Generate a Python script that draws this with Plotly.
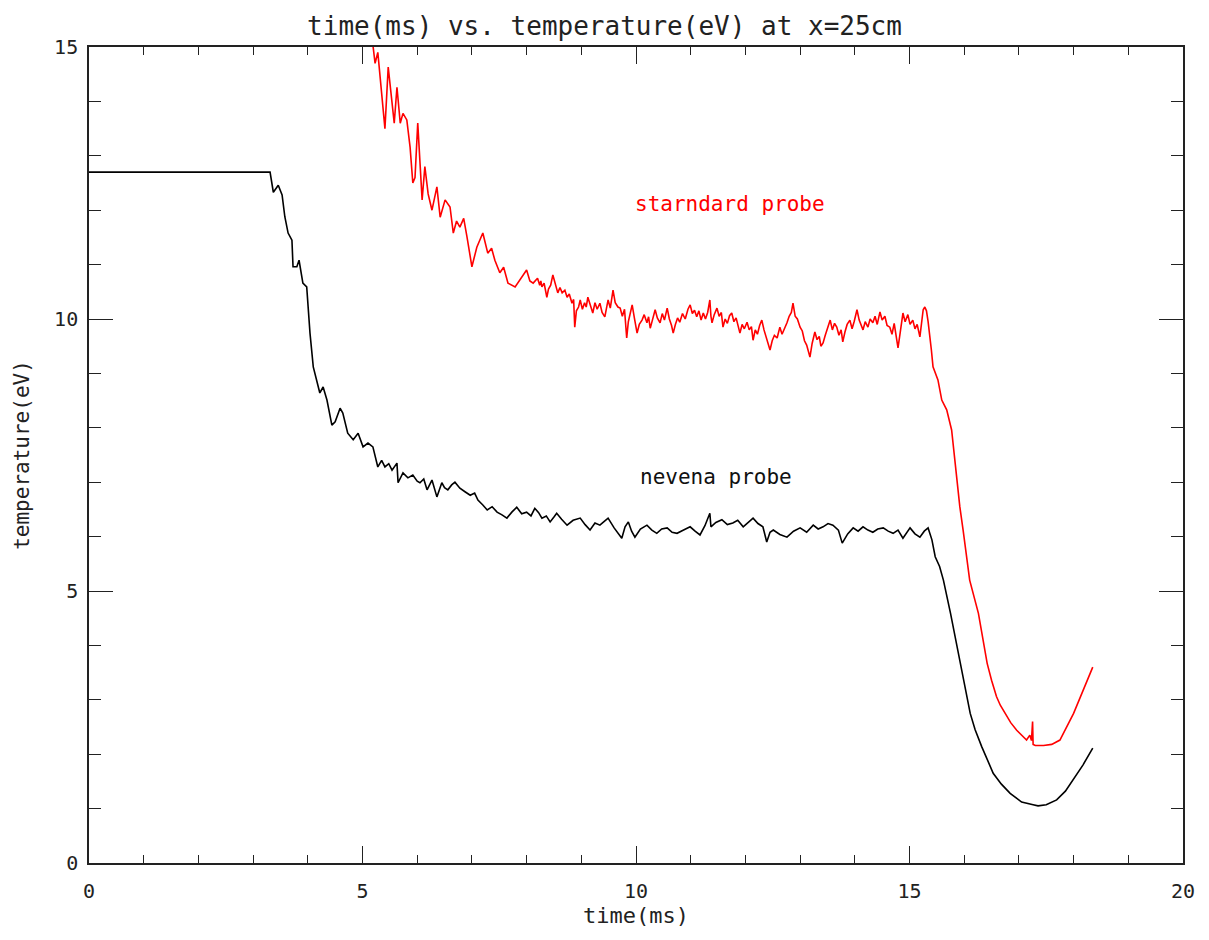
import plotly.graph_objects as go

# nevena probe (black)
nev_t = [0.00, 3.31, 3.37, 3.46, 3.53, 3.58, 3.64, 3.71, 3.73, 3.80, 3.84, 3.91, 3.98, 4.04, 4.10,
         4.17, 4.22, 4.28, 4.35, 4.44, 4.50, 4.59, 4.64, 4.73, 4.83, 4.92, 5.01, 5.10, 5.19, 5.28,
         5.35, 5.41, 5.48, 5.54, 5.63, 5.65, 5.74, 5.83, 5.92, 6.00, 6.05, 6.12, 6.18, 6.27, 6.36,
         6.45, 6.50, 6.56, 6.63, 6.69, 6.78, 6.88, 6.97, 7.05, 7.11, 7.20, 7.28, 7.37, 7.46, 7.55,
         7.64, 7.73, 7.82, 7.91, 8.00, 8.08, 8.15, 8.22, 8.28, 8.36, 8.43, 8.50, 8.55, 8.64, 8.74,
         8.85, 8.98, 9.07, 9.16, 9.25, 9.34, 9.42, 9.49, 9.60, 9.74, 9.80, 9.86, 9.92, 9.98, 10.08,
         10.20, 10.29, 10.38, 10.47, 10.57, 10.66, 10.75, 10.87, 10.99, 11.08, 11.17, 11.26, 11.35,
         11.37, 11.46, 11.57, 11.67, 11.77, 11.86, 11.96, 12.05, 12.14, 12.23, 12.32, 12.39, 12.45,
         12.51, 12.63, 12.76, 12.88, 13.00, 13.12, 13.24, 13.33, 13.42, 13.51, 13.60, 13.70, 13.77,
         13.87, 13.97, 14.06, 14.15, 14.24, 14.33, 14.42, 14.52, 14.61, 14.70, 14.79, 14.88, 14.95,
         15.01, 15.10, 15.19, 15.27, 15.34, 15.41, 15.47, 15.55, 15.62, 15.75, 15.87, 15.98, 16.11,
         16.20, 16.32, 16.53, 16.68, 16.84, 17.05, 17.26, 17.35, 17.50, 17.69, 17.85, 17.99, 18.17, 18.35]
nev_T = [12.70, 12.70, 12.33, 12.46, 12.28, 11.88, 11.58, 11.45, 10.96, 10.96, 11.08, 10.66, 10.59, 9.74, 9.12,
         8.82, 8.64, 8.75, 8.51, 8.05, 8.11, 8.36, 8.27, 7.90, 7.78, 7.90, 7.65, 7.72, 7.65, 7.28,
         7.40, 7.28, 7.34, 7.22, 7.35, 6.99, 7.17, 7.08, 7.13, 7.02, 6.99, 7.06, 6.86, 7.04, 6.73,
         6.99, 6.90, 6.86, 6.95, 7.00, 6.89, 6.82, 6.76, 6.80, 6.67, 6.58, 6.49, 6.55, 6.45, 6.40,
         6.34, 6.45, 6.54, 6.42, 6.45, 6.38, 6.52, 6.44, 6.34, 6.38, 6.27, 6.36, 6.43, 6.32, 6.21,
         6.30, 6.34, 6.22, 6.12, 6.25, 6.21, 6.28, 6.34, 6.16, 5.97, 6.18, 6.27, 6.10, 5.99, 6.14,
         6.21, 6.12, 6.06, 6.14, 6.16, 6.08, 6.06, 6.12, 6.18, 6.10, 6.03, 6.20, 6.43,
         6.18, 6.26, 6.31, 6.22, 6.25, 6.30, 6.18, 6.26, 6.34, 6.24, 6.18, 5.90, 6.08,
         6.12, 6.04, 5.99, 6.10, 6.16, 6.08, 6.21, 6.14, 6.18, 6.24, 6.21, 6.12, 5.88,
         6.05, 6.16, 6.10, 6.18, 6.12, 6.08, 6.14, 6.16, 6.10, 6.06, 6.12, 5.97, 6.08,
         6.16, 6.05, 5.99, 6.10, 6.16, 5.94, 5.63, 5.45, 5.20, 4.59, 3.98, 3.36, 2.75,
         2.45, 2.14, 1.65, 1.45, 1.28, 1.12, 1.07, 1.05, 1.07, 1.16, 1.32, 1.53, 1.80, 2.11]

# standard probe (red)
std_t = [5.10, 5.19, 5.23, 5.28, 5.32, 5.37, 5.41, 5.47, 5.54, 5.58, 5.63, 5.69, 5.74, 5.81, 5.87,
         5.92, 5.96, 6.01, 6.09, 6.14, 6.20, 6.27, 6.36, 6.42, 6.51, 6.60, 6.66, 6.72, 6.78, 6.85,
         6.91, 7.00, 7.09, 7.20, 7.29, 7.36, 7.42, 7.51, 7.58, 7.66, 7.79, 7.88, 8.00, 8.06, 8.12,
         8.20, 8.24, 8.26, 8.28, 8.32, 8.37, 8.40, 8.44, 8.48, 8.52,
         8.57, 8.61, 8.65, 8.70, 8.74, 8.78, 8.83, 8.86, 8.88, 8.91,
         8.95, 8.98, 9.02, 9.06, 9.09, 9.12, 9.16, 9.21, 9.25, 9.29,
         9.34, 9.38, 9.43, 9.46, 9.49, 9.53, 9.58, 9.62, 9.67, 9.71,
         9.75, 9.79, 9.83, 9.86, 9.90, 9.93, 9.97, 10.02, 10.06, 10.11,
         10.15, 10.20, 10.23, 10.26, 10.30, 10.35, 10.39, 10.44, 10.48, 10.52,
         10.57, 10.61, 10.65, 10.68, 10.72, 10.76, 10.80, 10.85, 10.90, 10.95,
         10.99, 11.03, 11.07, 11.11, 11.15, 11.19, 11.23, 11.27, 11.31, 11.35,
         11.37, 11.39, 11.43, 11.48, 11.52, 11.56, 11.59, 11.63, 11.67, 11.71,
         11.75, 11.79, 11.83, 11.86, 11.90, 11.94, 11.98, 12.03, 12.07, 12.11,
         12.14, 12.18, 12.22, 12.26, 12.30, 12.34, 12.38, 12.42, 12.45, 12.49,
         12.53, 12.58, 12.63, 12.67, 12.71, 12.76, 12.80, 12.84, 12.87, 12.91,
         12.95, 13.00, 13.04, 13.08, 13.12, 13.15, 13.18, 13.22, 13.27, 13.31,
         13.35, 13.38, 13.42, 13.46, 13.50, 13.55, 13.59, 13.63, 13.67, 13.71,
         13.75, 13.78, 13.82, 13.86, 13.91, 13.95, 13.99, 14.04, 14.08, 14.12,
         14.15, 14.19, 14.24, 14.28, 14.33, 14.37, 14.41, 14.46, 14.50, 14.55,
         14.59, 14.64, 14.68, 14.72, 14.76, 14.79, 14.83, 14.88, 14.92, 14.97,
         15.01, 15.06, 15.10, 15.14, 15.19, 15.22, 15.25, 15.28, 15.31, 15.34,
         15.36, 15.40,
         15.43, 15.52, 15.59, 15.68, 15.77, 15.80, 15.86, 15.92, 15.98, 16.04,
         16.10, 16.26, 16.36, 16.42, 16.50, 16.59, 16.66, 16.75, 16.85, 16.96,
         17.05, 17.14, 17.20, 17.23, 17.25, 17.26, 17.30, 17.45, 17.60, 17.75,
         18.00, 18.18, 18.35]
std_T = [15.80, 15.00, 14.70, 14.90, 14.50, 13.90, 13.50, 14.63, 13.90, 13.60, 14.26, 13.60, 13.78, 13.66, 13.16,
         12.50, 12.60, 13.60, 12.19, 12.80, 12.30, 12.00, 12.43, 11.87, 12.19, 12.06, 11.58, 11.80, 11.69, 11.85,
         11.51, 10.96, 11.32, 11.58, 11.21, 11.30, 11.08, 10.85, 10.95, 10.66, 10.59, 10.72, 10.90, 10.70, 10.66,
         10.75, 10.62, 10.70, 10.59, 10.66, 10.40, 10.55, 10.62, 10.81, 10.66,
         10.48, 10.58, 10.48, 10.53, 10.40, 10.46, 10.29, 10.36, 9.85, 10.15,
         10.22, 10.35, 10.18, 10.30, 10.22, 10.40, 10.25, 10.11, 10.30, 10.18,
         10.29, 10.12, 10.04, 10.22, 10.35, 10.20, 10.53, 10.30, 10.22, 10.20,
         10.05, 10.18, 9.65, 9.95, 10.10, 10.26, 10.02, 9.74, 9.90, 9.98,
         10.08, 9.93, 10.04, 9.83, 9.98, 10.17, 10.02, 9.93, 10.10, 9.98,
         10.20, 10.00, 9.88, 9.74, 9.90, 10.02, 9.94, 10.10, 10.00, 10.18,
         10.26, 10.10, 10.16, 10.04, 10.15, 9.98, 10.11, 10.00, 10.12, 10.35,
         10.05, 9.93, 10.08, 10.20, 10.05, 10.12, 9.85, 10.00, 9.92, 10.06,
         10.11, 9.95, 10.02, 9.88, 9.74, 9.90, 9.82, 9.94, 9.80, 9.86,
         9.61, 9.80, 9.72, 9.88, 9.98, 9.80, 9.68, 9.55, 9.43, 9.60,
         9.70, 9.65, 9.85, 9.72, 9.80, 9.93, 10.05, 10.12, 10.29, 10.05,
         10.00, 9.85, 9.78, 9.60, 9.52, 9.40, 9.30, 9.55, 9.76, 9.62,
         9.68, 9.50, 9.56, 9.70, 9.82, 9.98, 9.80, 9.92, 9.85, 9.70,
         9.80, 9.58, 9.76, 9.90, 9.98, 9.82, 9.96, 10.17, 9.98, 9.88,
         9.80, 9.95, 9.85, 10.00, 9.93, 10.05, 9.90, 10.13, 9.98, 10.05,
         9.88, 9.85, 9.72, 9.92, 9.62, 9.47, 9.75, 10.11, 9.95, 10.08,
         9.90, 9.98, 9.82, 9.90, 9.67, 9.90, 10.17, 10.22, 10.15, 9.95,
         9.80, 9.43,
         9.12, 8.88, 8.51, 8.33, 7.96, 7.65, 7.04, 6.55, 6.12, 5.69,
         5.20, 4.59, 3.98, 3.67, 3.36, 3.06, 2.90, 2.75, 2.58, 2.44,
         2.34, 2.26, 2.35, 2.25, 2.60, 2.18, 2.16, 2.16, 2.18, 2.26,
         2.75, 3.18, 3.60]

x_ticks = [0, 5, 10, 15, 20]
y_ticks = [0, 5, 10, 15]
labels = ["starndard probe", "nevena probe"]
label_pos = [(11.72, 12.11), (11.46, 7.10)]
label_colors = ["#ff0000", "#111111"]

FONT = "DejaVu Sans Mono"
INK = "#222222"
fig = go.Figure()
fig.add_trace(go.Scatter(x=nev_t, y=nev_T, mode="lines",
                         line=dict(color="#000000", width=1.6), showlegend=False))
fig.add_trace(go.Scatter(x=std_t, y=std_T, mode="lines",
                         line=dict(color="#ff0000", width=1.6), showlegend=False))

for txt, (ax, ay), c in zip(labels, label_pos, label_colors):
    fig.add_annotation(x=ax, y=ay, text=txt, showarrow=False,
                       font=dict(family=FONT, size=21, color=c))

axis_common = dict(showgrid=False, zeroline=False, showline=True, linecolor=INK,
                   linewidth=1.6, mirror="ticks", ticks="inside", tickcolor=INK,
                   tickfont=dict(family=FONT, size=20, color=INK))

fig.update_xaxes(range=[0, 20], tickvals=x_ticks, ticklen=17, tickwidth=1.4,
                 minor=dict(dtick=1, ticklen=8, ticks="inside", tickcolor=INK, tickwidth=1.4),
                 ticklabelstandoff=9,
                 title=dict(text="time(ms)", font=dict(family=FONT, size=22, color=INK), standoff=1),
                 **axis_common)
fig.update_yaxes(range=[0, 15], tickvals=y_ticks, ticklen=24, tickwidth=1.4,
                 minor=dict(dtick=1, ticklen=12, ticks="inside", tickcolor=INK, tickwidth=1.4),
                 ticklabelstandoff=5,
                 title=dict(text="temperature(eV)", font=dict(family=FONT, size=21, color=INK), standoff=19),
                 **axis_common)

fig.update_layout(
    width=1193, height=924,
    margin=dict(l=81, r=18, t=39, b=69, autoexpand=False),
    plot_bgcolor="white", paper_bgcolor="white",
    title=dict(text="time(ms) vs. temperature(eV) at x=25cm", x=0.5, xanchor="center",
               y=1 - 18 / 924, yanchor="middle", yref="container",
               font=dict(family=FONT, size=26, color=INK)),
)

fig.write_html("out.html")
